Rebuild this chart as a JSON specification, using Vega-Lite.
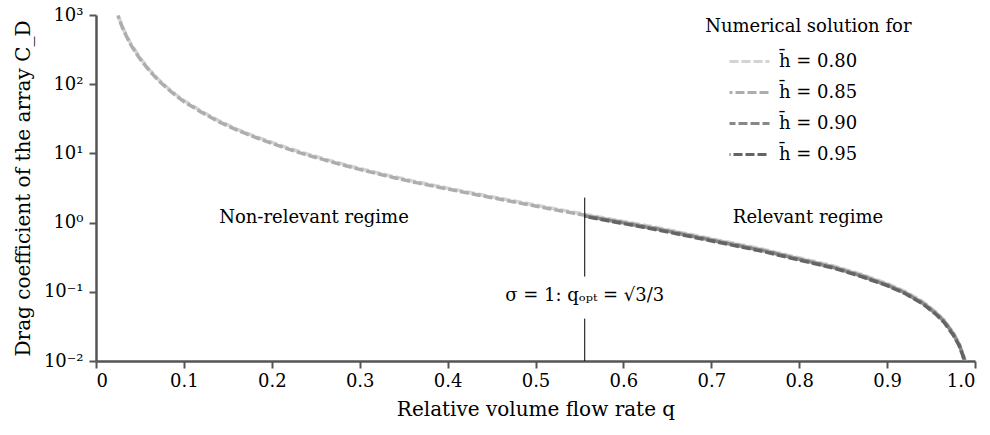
{
  "$schema": "https://vega.github.io/schema/vega-lite/v6.json",
  "width": 879,
  "height": 346,
  "autosize": {"type": "none"},
  "padding": {"left": 96, "top": 15, "right": 15, "bottom": 74},
  "background": "white",
  "config": {
    "view": {"stroke": null},
    "font": "DejaVu Serif",
    "axis": {
      "grid": false,
      "domainColor": "#555555",
      "domainWidth": 2.5,
      "tickColor": "#555555",
      "tickWidth": 2,
      "tickSize": 7,
      "labelColor": "#000000",
      "titleColor": "#000000",
      "labelFont": "DejaVu Serif",
      "titleFont": "DejaVu Serif",
      "labelFontSize": 18,
      "titleFontSize": 20,
      "titleFontWeight": "normal"
    }
  },
  "datasets": {
    "curves": [
      {"h": "0.80", "q": 0.025, "c": 1000}, {"h": "0.80", "q": 0.03, "c": 680}, {"h": "0.80", "q": 0.035, "c": 495}, {"h": "0.80", "q": 0.04, "c": 375},
      {"h": "0.80", "q": 0.05, "c": 240}, {"h": "0.80", "q": 0.06, "c": 166}, {"h": "0.80", "q": 0.07, "c": 121}, {"h": "0.80", "q": 0.08, "c": 92},
      {"h": "0.80", "q": 0.09, "c": 72}, {"h": "0.80", "q": 0.10, "c": 58}, {"h": "0.80", "q": 0.12, "c": 40.5}, {"h": "0.80", "q": 0.14, "c": 29.5},
      {"h": "0.80", "q": 0.16, "c": 22.5}, {"h": "0.80", "q": 0.18, "c": 17.8}, {"h": "0.80", "q": 0.20, "c": 14.4}, {"h": "0.80", "q": 0.22, "c": 11.8},
      {"h": "0.80", "q": 0.24, "c": 9.8}, {"h": "0.80", "q": 0.26, "c": 8.3}, {"h": "0.80", "q": 0.28, "c": 7.05}, {"h": "0.80", "q": 0.30, "c": 6.05},
      {"h": "0.80", "q": 0.33, "c": 4.9}, {"h": "0.80", "q": 0.36, "c": 4.0}, {"h": "0.80", "q": 0.40, "c": 3.15}, {"h": "0.80", "q": 0.44, "c": 2.5},
      {"h": "0.80", "q": 0.48, "c": 2.0}, {"h": "0.80", "q": 0.52, "c": 1.6}, {"h": "0.80", "q": 0.556, "c": 1.32}, {"h": "0.80", "q": 0.60, "c": 1.04},
      {"h": "0.80", "q": 0.64, "c": 0.84}, {"h": "0.80", "q": 0.68, "c": 0.66}, {"h": "0.80", "q": 0.72, "c": 0.52}, {"h": "0.80", "q": 0.76, "c": 0.41},
      {"h": "0.80", "q": 0.80, "c": 0.31}, {"h": "0.80", "q": 0.84, "c": 0.235}, {"h": "0.80", "q": 0.87, "c": 0.18}, {"h": "0.80", "q": 0.90, "c": 0.132},
      {"h": "0.80", "q": 0.92, "c": 0.102}, {"h": "0.80", "q": 0.94, "c": 0.073}, {"h": "0.80", "q": 0.955, "c": 0.052}, {"h": "0.80", "q": 0.965, "c": 0.039},
      {"h": "0.80", "q": 0.975, "c": 0.026}, {"h": "0.80", "q": 0.982, "c": 0.018}, {"h": "0.80", "q": 0.986, "c": 0.013}, {"h": "0.80", "q": 0.989, "c": 0.01},

      {"h": "0.85", "q": 0.025, "c": 970}, {"h": "0.85", "q": 0.03, "c": 660}, {"h": "0.85", "q": 0.035, "c": 480}, {"h": "0.85", "q": 0.04, "c": 364},
      {"h": "0.85", "q": 0.05, "c": 233}, {"h": "0.85", "q": 0.06, "c": 161}, {"h": "0.85", "q": 0.07, "c": 117}, {"h": "0.85", "q": 0.08, "c": 89},
      {"h": "0.85", "q": 0.09, "c": 70}, {"h": "0.85", "q": 0.10, "c": 56}, {"h": "0.85", "q": 0.12, "c": 39.3}, {"h": "0.85", "q": 0.14, "c": 28.6},
      {"h": "0.85", "q": 0.16, "c": 21.8}, {"h": "0.85", "q": 0.18, "c": 17.3}, {"h": "0.85", "q": 0.20, "c": 14.0}, {"h": "0.85", "q": 0.22, "c": 11.4},
      {"h": "0.85", "q": 0.24, "c": 9.5}, {"h": "0.85", "q": 0.26, "c": 8.05}, {"h": "0.85", "q": 0.28, "c": 6.84}, {"h": "0.85", "q": 0.30, "c": 5.87},
      {"h": "0.85", "q": 0.33, "c": 4.75}, {"h": "0.85", "q": 0.36, "c": 3.88}, {"h": "0.85", "q": 0.40, "c": 3.06}, {"h": "0.85", "q": 0.44, "c": 2.43},
      {"h": "0.85", "q": 0.48, "c": 1.94}, {"h": "0.85", "q": 0.52, "c": 1.55}, {"h": "0.85", "q": 0.556, "c": 1.28}, {"h": "0.85", "q": 0.60, "c": 1.01},
      {"h": "0.85", "q": 0.64, "c": 0.815}, {"h": "0.85", "q": 0.68, "c": 0.64}, {"h": "0.85", "q": 0.72, "c": 0.505}, {"h": "0.85", "q": 0.76, "c": 0.398},
      {"h": "0.85", "q": 0.80, "c": 0.30}, {"h": "0.85", "q": 0.84, "c": 0.228}, {"h": "0.85", "q": 0.87, "c": 0.175}, {"h": "0.85", "q": 0.90, "c": 0.128},
      {"h": "0.85", "q": 0.92, "c": 0.099}, {"h": "0.85", "q": 0.94, "c": 0.071}, {"h": "0.85", "q": 0.955, "c": 0.0505}, {"h": "0.85", "q": 0.965, "c": 0.038},
      {"h": "0.85", "q": 0.975, "c": 0.0252}, {"h": "0.85", "q": 0.982, "c": 0.0175}, {"h": "0.85", "q": 0.986, "c": 0.0126}, {"h": "0.85", "q": 0.989, "c": 0.0097},

      {"h": "0.90", "q": 0.556, "c": 1.25}, {"h": "0.90", "q": 0.60, "c": 0.99}, {"h": "0.90", "q": 0.64, "c": 0.80}, {"h": "0.90", "q": 0.68, "c": 0.63},
      {"h": "0.90", "q": 0.72, "c": 0.495}, {"h": "0.90", "q": 0.76, "c": 0.39}, {"h": "0.90", "q": 0.80, "c": 0.295}, {"h": "0.90", "q": 0.84, "c": 0.223},
      {"h": "0.90", "q": 0.87, "c": 0.171}, {"h": "0.90", "q": 0.90, "c": 0.125}, {"h": "0.90", "q": 0.92, "c": 0.097}, {"h": "0.90", "q": 0.94, "c": 0.069},
      {"h": "0.90", "q": 0.955, "c": 0.049}, {"h": "0.90", "q": 0.965, "c": 0.037}, {"h": "0.90", "q": 0.975, "c": 0.025}, {"h": "0.90", "q": 0.982, "c": 0.017},
      {"h": "0.90", "q": 0.986, "c": 0.0124}, {"h": "0.90", "q": 0.989, "c": 0.0095},

      {"h": "0.95", "q": 0.556, "c": 1.23}, {"h": "0.95", "q": 0.60, "c": 0.97}, {"h": "0.95", "q": 0.64, "c": 0.78}, {"h": "0.95", "q": 0.68, "c": 0.615},
      {"h": "0.95", "q": 0.72, "c": 0.484}, {"h": "0.95", "q": 0.76, "c": 0.381}, {"h": "0.95", "q": 0.80, "c": 0.288}, {"h": "0.95", "q": 0.84, "c": 0.219},
      {"h": "0.95", "q": 0.87, "c": 0.167}, {"h": "0.95", "q": 0.90, "c": 0.123}, {"h": "0.95", "q": 0.92, "c": 0.095}, {"h": "0.95", "q": 0.94, "c": 0.068},
      {"h": "0.95", "q": 0.955, "c": 0.048}, {"h": "0.95", "q": 0.965, "c": 0.036}, {"h": "0.95", "q": 0.975, "c": 0.024}, {"h": "0.95", "q": 0.982, "c": 0.0167},
      {"h": "0.95", "q": 0.986, "c": 0.0121}, {"h": "0.95", "q": 0.989, "c": 0.0093}
    ],
    "rules": [
      {"q": 0.556, "lo": 0.166, "hi": 2.3},
      {"q": 0.556, "lo": 0.01, "hi": 0.041}
    ],
    "notes": [
      {"q": 0.248, "c": 1.17, "t": "Non-relevant regime"},
      {"q": 0.81, "c": 1.17, "t": "Relevant regime"},
      {"q": 0.556, "c": 0.088, "t": "σ = 1: qₒₚₜ = √3/3"}
    ],
    "legendTitle": [
      {"q": 0.693, "c": 671, "t": "Numerical solution for"}
    ]
  },
  "layer": [
    {
      "data": {"name": "curves"},
      "mark": {"type": "line", "strokeWidth": 3.5, "clip": true},
      "encoding": {
        "x": {
          "field": "q", "type": "quantitative",
          "scale": {"domain": [0, 1], "nice": false},
          "axis": {
            "title": "Relative volume flow rate q",
            "values": [0, 0.1, 0.2, 0.3, 0.4, 0.5, 0.6, 0.7, 0.8, 0.9, 1.0],
            "labelExpr": "datum.value == 0 ? '0' : format(datum.value, '.1f')",
            "labelPadding": 4,
            "titlePadding": 9
          }
        },
        "y": {
          "field": "c", "type": "quantitative",
          "scale": {"type": "log", "domain": [0.01, 1000], "nice": false},
          "axis": {
            "title": "Drag coefficient of the array C_D",
            "values": [0.01, 0.1, 1, 10, 100, 1000],
            "labelExpr": "['10⁻²','10⁻¹','10⁰','10¹','10²','10³'][round(log(datum.value)/LN10)+2]",
            "labelPadding": 6,
            "titlePadding": 10
          }
        },
        "color": {
          "field": "h", "type": "nominal",
          "scale": {"domain": ["0.80", "0.85", "0.90", "0.95"], "range": ["#d3d3d3", "#adadad", "#888888", "#646464"]},
          "legend": {
            "title": null,
            "orient": "none",
            "legendX": 632,
            "legendY": 25,
            "padding": 0,
            "symbolType": "stroke",
            "symbolSize": 1600,
            "symbolStrokeWidth": 3,
            "symbolDash": [8, 4],
            "labelFont": "DejaVu Serif",
            "labelFontSize": 18,
            "labelColor": "#000000",
            "labelOffset": 8,
            "rowPadding": -9,
            "labelExpr": "'h\u0304 = ' + datum.label"
          }
        },
        "strokeDash": {
          "field": "h", "type": "nominal",
          "scale": {"domain": ["0.80", "0.85", "0.90", "0.95"], "range": [[9, 3], [3, 3, 6, 0], [6, 3, 3, 0], [1, 3, 8, 0]]},
          "legend": null
        }
      }
    },
    {
      "data": {"name": "rules"},
      "mark": {"type": "rule", "color": "#000000", "strokeWidth": 1},
      "encoding": {
        "x": {"field": "q", "type": "quantitative"},
        "y": {"field": "lo", "type": "quantitative"},
        "y2": {"field": "hi"}
      }
    },
    {
      "data": {"name": "notes"},
      "mark": {"type": "text", "font": "DejaVu Serif", "fontSize": 18, "color": "#000000", "align": "center", "baseline": "middle"},
      "encoding": {
        "x": {"field": "q", "type": "quantitative"},
        "y": {"field": "c", "type": "quantitative"},
        "text": {"field": "t"}
      }
    },
    {
      "data": {"name": "legendTitle"},
      "mark": {"type": "text", "font": "DejaVu Serif", "fontSize": 18, "color": "#000000", "align": "left", "baseline": "middle"},
      "encoding": {
        "x": {"field": "q", "type": "quantitative"},
        "y": {"field": "c", "type": "quantitative"},
        "text": {"field": "t"}
      }
    }
  ]
}
